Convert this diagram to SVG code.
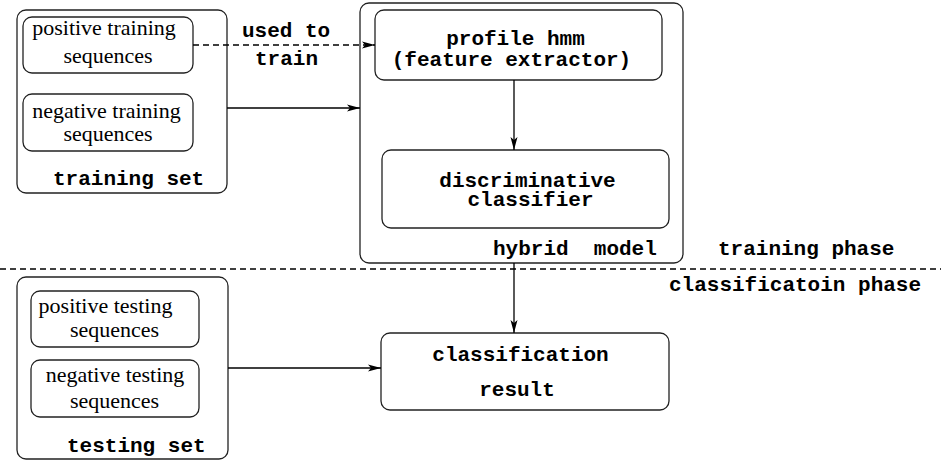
<svg xmlns="http://www.w3.org/2000/svg" width="941" height="461" viewBox="0 0 941 461">
<style>
.box{fill:none;stroke:#222;stroke-width:1.3}
.mono{font-family:"Liberation Mono","Courier New",monospace;font-weight:bold;font-size:21px;fill:#000}
.serif{font-family:"Liberation Serif","Times New Roman",serif;font-size:22px;fill:#000}
.ln{fill:none;stroke:#000;stroke-width:1.3}
.dash{stroke-dasharray:6 4}
</style>
<defs>
<marker id="arr" markerUnits="userSpaceOnUse" markerWidth="16" markerHeight="10" viewBox="-14 -5 16 10" refX="0" refY="0" orient="auto">
<path d="M0,0 L-13,-3.5 L-10,0 L-13,3.5 Z" fill="#000"/>
</marker>
</defs>
<rect width="941" height="461" fill="#fff"/>

<g id="training-set">
<rect class="box" x="17" y="10" width="210" height="183" rx="9"/>
<text class="mono" x="53" y="185">training set</text>
</g>
<g id="positive-training">
<rect class="box" x="23" y="17" width="170" height="56" rx="9"/>
<text class="serif" text-anchor="middle" x="104" y="35">positive training</text>
<text class="serif" text-anchor="middle" x="108" y="63">sequences</text>
</g>
<g id="negative-training">
<rect class="box" x="23" y="94" width="170" height="57" rx="9"/>
<text class="serif" text-anchor="middle" x="106.5" y="118">negative training</text>
<text class="serif" text-anchor="middle" x="108" y="141">sequences</text>
</g>

<g id="hybrid-model">
<rect class="box" x="360" y="3" width="323" height="260" rx="9"/>
<text class="mono" x="493" y="255" xml:space="preserve">hybrid  model</text>
</g>
<g id="profile-hmm">
<rect class="box" x="375" y="10" width="287" height="70" rx="9"/>
<text class="mono" text-anchor="middle" x="515.5" y="45">profile hmm</text>
<text class="mono" text-anchor="middle" x="511.5" y="65.5">(feature extractor)</text>
</g>
<g id="discriminative-classifier">
<rect class="box" x="382" y="150" width="287" height="78" rx="9"/>
<text class="mono" text-anchor="middle" x="527.5" y="187">discriminative</text>
<text class="mono" text-anchor="middle" x="530.5" y="206">classifier</text>
</g>

<g id="phase-labels">
<text class="mono" x="718" y="255">training phase</text>
<text class="mono" x="669" y="291">classificatoin phase</text>
</g>

<g id="testing-set">
<rect class="box" x="17" y="277" width="211" height="182" rx="9"/>
<text class="mono" x="67" y="452">testing set</text>
</g>
<g id="positive-testing">
<rect class="box" x="31" y="291" width="168" height="56" rx="9"/>
<text class="serif" text-anchor="middle" x="105.5" y="313">positive testing</text>
<text class="serif" text-anchor="middle" x="114.5" y="337">sequences</text>
</g>
<g id="negative-testing">
<rect class="box" x="31" y="360" width="168" height="57" rx="9"/>
<text class="serif" text-anchor="middle" x="115" y="382">negative testing</text>
<text class="serif" text-anchor="middle" x="114.5" y="408">sequences</text>
</g>

<g id="classification-result">
<rect class="box" x="381" y="333" width="288" height="77" rx="9"/>
<text class="mono" text-anchor="middle" x="520.5" y="361">classification</text>
<text class="mono" text-anchor="middle" x="517" y="396">result</text>
</g>

<g id="connectors">
<line class="ln dash" x1="0" y1="269" x2="941" y2="269"/>
<line class="ln dash" x1="193" y1="45" x2="375" y2="45" marker-end="url(#arr)"/>
<line class="ln" x1="227" y1="108" x2="360" y2="108" marker-end="url(#arr)"/>
<line class="ln" x1="514" y1="80" x2="514" y2="150" marker-end="url(#arr)"/>
<line class="ln" x1="514" y1="263" x2="514" y2="333" marker-end="url(#arr)"/>
<line class="ln" x1="228" y1="368" x2="381" y2="368" marker-end="url(#arr)"/>
<text class="mono" x="242" y="37">used to</text>
<text class="mono" x="255" y="65">train</text>
</g>
</svg>
